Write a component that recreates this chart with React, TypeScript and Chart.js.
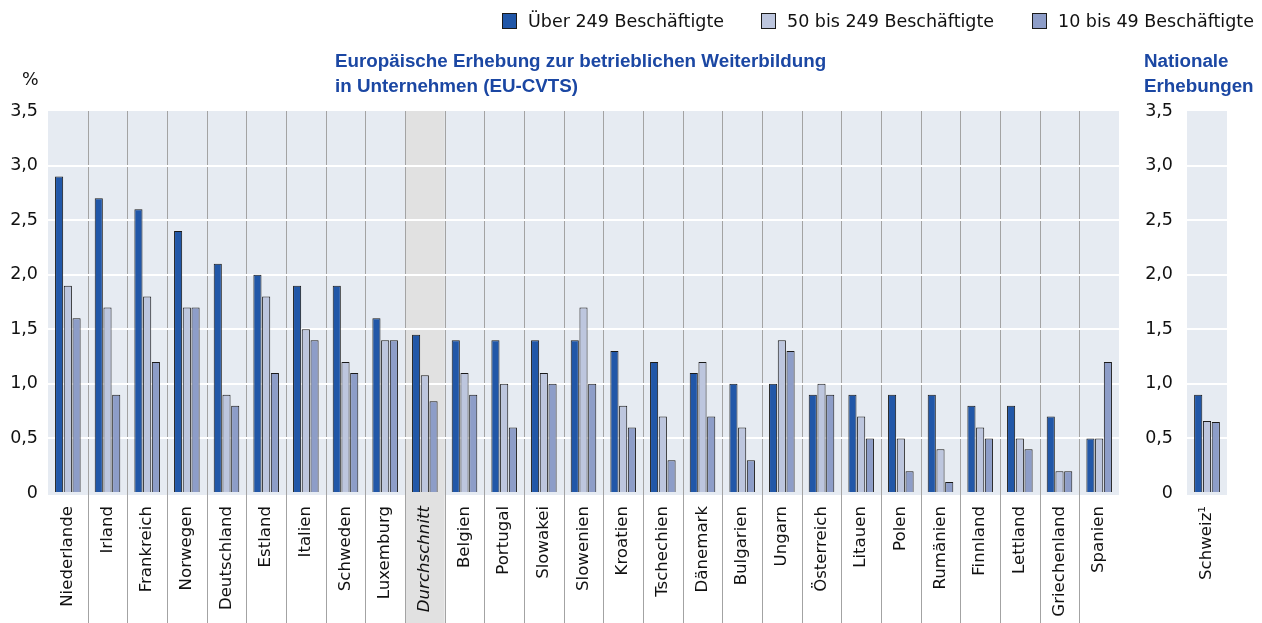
import React, { useEffect, useRef } from "react";
import { Chart, registerables } from "chart.js";

Chart.register(...registerables);

const categories = [
  "Niederlande", "Irland", "Frankreich", "Norwegen", "Deutschland", "Estland", "Italien",
  "Schweden", "Luxemburg", "Durchschnitt", "Belgien", "Portugal", "Slowakei", "Slowenien",
  "Kroatien", "Tschechien", "Dänemark", "Bulgarien", "Ungarn", "Österreich", "Litauen",
  "Polen", "Rumänien", "Finnland", "Lettland", "Griechenland", "Spanien",
];
const over249 = [2.9, 2.7, 2.6, 2.4, 2.1, 2.0, 1.9, 1.9, 1.6, 1.45, 1.4, 1.4, 1.4, 1.4, 1.3, 1.2, 1.1, 1.0, 1.0, 0.9, 0.9, 0.9, 0.9, 0.8, 0.8, 0.7, 0.5];
const from50to249 = [1.9, 1.7, 1.8, 1.7, 0.9, 1.8, 1.5, 1.2, 1.4, 1.08, 1.1, 1.0, 1.1, 1.7, 0.8, 0.7, 1.2, 0.6, 1.4, 1.0, 0.7, 0.5, 0.4, 0.6, 0.5, 0.2, 0.5];
const from10to49 = [1.6, 0.9, 1.2, 1.7, 0.8, 1.1, 1.4, 1.1, 1.4, 0.84, 0.9, 0.6, 1.0, 1.0, 0.6, 0.3, 0.7, 0.3, 1.3, 0.9, 0.5, 0.2, 0.1, 0.5, 0.4, 0.2, 1.2];

const nationalCategories = ["Schweiz¹"];
const nationalOver249 = [0.9];
const nationalFrom50to249 = [0.66];
const nationalFrom10to49 = [0.65];

const seriesLabels = ["Über 249 Beschäftigte", "50 bis 249 Beschäftigte", "10 bis 49 Beschäftigte"];
const seriesColors = ["#2157a8", "#bdc6de", "#8d9dc8"];
const averageLabel = "Durchschnitt";

const yMin = 0;
const yMax = 3.5;
const yStep = 0.5;

const W = 1262;
const H = 623;
const FONT = "'DejaVu Sans', sans-serif";
const PLOT_BG = "#e6ebf2";

const fmt = (v: number) => (v === 0 ? "0" : v.toFixed(1).replace(".", ","));

function makeDatasets(a: number[], b: number[], c: number[]) {
  return [a, b, c].map((data, i) => ({
    label: seriesLabels[i],
    data,
    backgroundColor: seriesColors[i],
    borderColor: "#1a1a1a",
    borderWidth: 1,
    borderSkipped: "bottom" as const,
    categoryPercentage: 0.66,
    barPercentage: 0.93,
  }));
}

function baseOptions(padLeft: number, padRight: number, yWidth: number, yPad: number, isMain: boolean) {
  return {
    responsive: false,
    animation: false as const,
    layout: { padding: { top: 111, left: padLeft, right: padRight, bottom: 0 } },
    plugins: { legend: { display: false }, tooltip: { enabled: false } },
    scales: {
      x: {
        grid: { display: false },
        border: { display: false },
        afterFit: (s: any) => { s.height = 130; },
        ticks: {
          autoSkip: false,
          minRotation: 90,
          maxRotation: 90,
          padding: 5,
          color: "#111",
          font: (ctx: any) => {
            const lbl = isMain ? categories[ctx.index] : "";
            return { family: FONT, size: 16.6, style: lbl === averageLabel ? "italic" : "normal" };
          },
        },
      },
      y: {
        min: yMin,
        max: yMax,
        border: { display: false },
        afterFit: (s: any) => { s.width = yWidth; },
        grid: {
          drawTicks: false,
          lineWidth: 2,
          color: (ctx: any) => (ctx.tick && (ctx.tick.value === yMin || ctx.tick.value === yMax) ? "rgba(0,0,0,0)" : "#ffffff"),
        },
        ticks: {
          stepSize: yStep,
          padding: yPad,
          color: "#111",
          font: { family: FONT, size: 17.5 },
          callback: (v: any) => fmt(Number(v)),
        },
      },
    },
  };
}

const bgPlugin = (withDividers: boolean) => ({
  id: "panelBg",
  beforeDraw(chart: any) {
    const { ctx, chartArea, scales } = chart;
    const x = scales.x;
    ctx.save();
    ctx.fillStyle = PLOT_BG;
    ctx.fillRect(chartArea.left, chartArea.top, chartArea.right - chartArea.left, chartArea.bottom - chartArea.top + 2);
    if (withDividers) {
      const n = chart.data.labels.length;
      const edge = (i: number) => (x.getPixelForValue(i - 1) + x.getPixelForValue(i)) / 2;
      const avg = chart.data.labels.indexOf(averageLabel);
      if (avg >= 0) {
        const l = edge(avg);
        const r = edge(avg + 1);
        ctx.fillStyle = "#e1e1e1";
        ctx.fillRect(l, chartArea.top, r - l, chart.height - chartArea.top);
      }
      ctx.strokeStyle = "#a3a3a3";
      ctx.lineWidth = 1;
      for (let i = 1; i < n; i++) {
        const px = Math.round(edge(i)) + 0.5;
        ctx.beginPath();
        ctx.moveTo(px, chartArea.top);
        ctx.lineTo(px, chart.height);
        ctx.stroke();
      }
    }
    ctx.restore();
  },
});

export default function App() {
  const mainRef = useRef<HTMLCanvasElement>(null);
  const natRef = useRef<HTMLCanvasElement>(null);

  useEffect(() => {
    const main = new Chart(mainRef.current!, {
      type: "bar",
      data: { labels: categories, datasets: makeDatasets(over249, from50to249, from10to49) },
      options: baseOptions(0, W - 1119, 48, 10, true) as any,
      plugins: [bgPlugin(true)],
    });
    const nat = new Chart(natRef.current!, {
      type: "bar",
      data: { labels: nationalCategories, datasets: makeDatasets(nationalOver249, nationalFrom50to249, nationalFrom10to49) },
      options: (() => {
        const o: any = baseOptions(1137, W - 1227, 50, 14, false);
        o.scales.x.ticks.font = { family: FONT, size: 16.6 };
        return o;
      })(),
      plugins: [bgPlugin(false)],
    });
    return () => {
      main.destroy();
      nat.destroy();
    };
  }, []);

  const titleStyle: React.CSSProperties = {
    position: "absolute",
    fontFamily: "'Liberation Sans', Arial, sans-serif",
    fontWeight: "bold",
    fontSize: 18.8,
    lineHeight: "24.5px",
    color: "#1b47a3",
    whiteSpace: "nowrap",
  };
  const legendText: React.CSSProperties = {
    position: "absolute",
    top: 10,
    fontFamily: FONT,
    fontSize: 17.5,
    lineHeight: "22px",
    color: "#111",
    whiteSpace: "nowrap",
  };
  const box = (left: number, color: string): React.CSSProperties => ({
    position: "absolute",
    left,
    top: 13,
    width: 13,
    height: 14,
    background: color,
    border: "1px solid #1a1a1a",
  });
  const legendTextX = [528, 787, 1058];

  return (
    <div style={{ position: "absolute", left: 0, top: 0, width: W, height: H, background: "#fff", overflow: "hidden" }}>
      <canvas ref={mainRef} width={W} height={H} style={{ position: "absolute", left: 0, top: 0 }} />
      <canvas ref={natRef} width={W} height={H} style={{ position: "absolute", left: 0, top: 0 }} />
      {seriesLabels.map((s, i) => (
        <React.Fragment key={s}>
          <div style={box(legendTextX[i] - 26, seriesColors[i])} />
          <div style={{ ...legendText, left: legendTextX[i] }}>{s}</div>
        </React.Fragment>
      ))}
      <div style={{ ...titleStyle, left: 335, top: 49 }}>
        Europäische Erhebung zur betrieblichen Weiterbildung
        <br />
        in Unternehmen (EU-CVTS)
      </div>
      <div style={{ ...titleStyle, left: 1144, top: 49 }}>
        Nationale
        <br />
        Erhebungen
      </div>
      <div style={{ position: "absolute", left: 22, top: 69, fontFamily: FONT, fontSize: 17.5, color: "#111" }}>%</div>
    </div>
  );
}
